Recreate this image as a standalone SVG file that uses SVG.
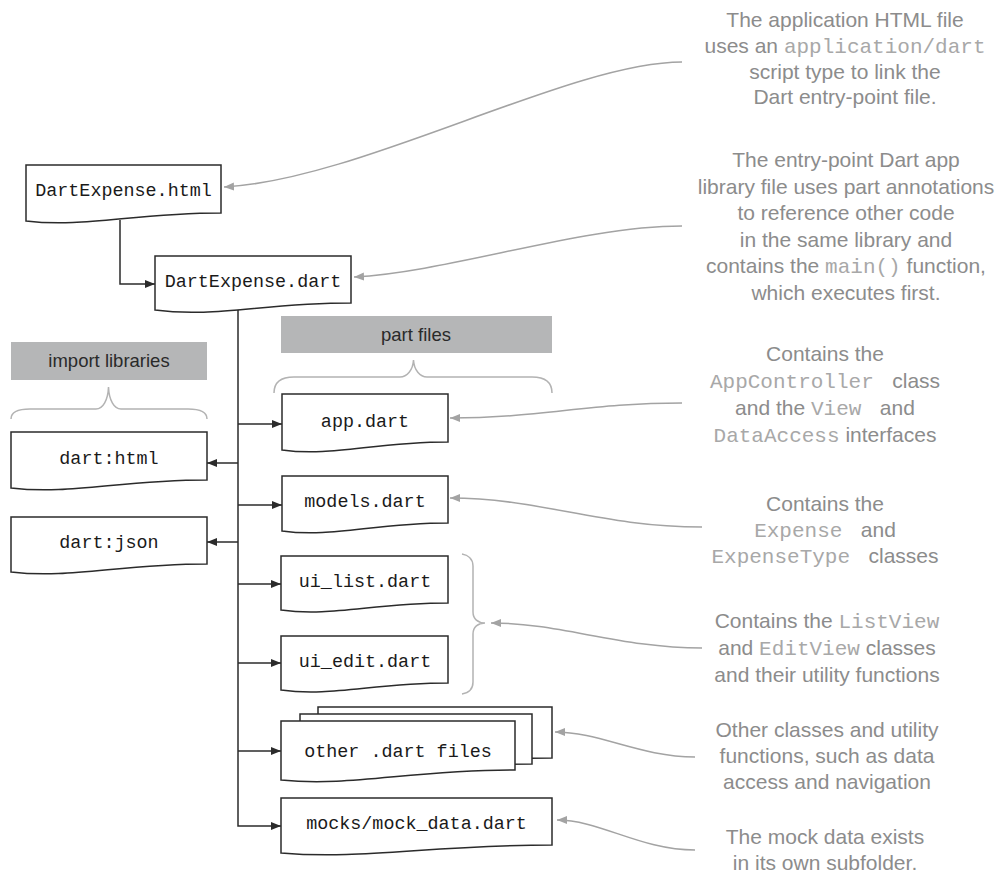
<svg xmlns="http://www.w3.org/2000/svg" width="1007" height="873" viewBox="0 0 1007 873">
<style>
.box{fill:#fff;stroke:#2b2b2b;stroke-width:1.5}
.nt{font-family:"Liberation Mono","Courier New",monospace;font-size:18.4px;fill:#1a1a1a;text-anchor:middle}
.hdr{fill:#b5b6b7}
.ht{font-family:"Liberation Sans",Arial,sans-serif;font-size:18.5px;fill:#2a2a2a;text-anchor:middle}
.br{fill:none;stroke:#b3b3b3;stroke-width:1.5}
.con{fill:none;stroke:#2b2b2b;stroke-width:1.5}
.cal{fill:none;stroke:#a3a3a3;stroke-width:1.5}
.ct{font-family:"Liberation Sans",Arial,sans-serif;font-size:21px;fill:#8c8c8c;text-anchor:middle}
.cm{font-family:"Liberation Mono","Courier New",monospace;fill:#a8a8a8}
</style>
<defs>
<marker id="ad" markerUnits="userSpaceOnUse" markerWidth="11" markerHeight="8" refX="10" refY="4" orient="auto"><path d="M0,0 L10,4 L0,8 z" fill="#2b2b2b"/></marker>
<marker id="ag" markerUnits="userSpaceOnUse" markerWidth="11" markerHeight="8" refX="10" refY="4" orient="auto"><path d="M0,0 L10,4 L0,8 z" fill="#a3a3a3"/></marker>
</defs>

<g id="header-import">
<rect class="hdr" x="11" y="342" width="196" height="38"/>
<text class="ht" x="109" y="367">import libraries</text>
<path class="br" d="M11,419 C11,412 17,409 30,409 L96,409 C103,409 108,400 108.5,387 C109,400 114,409 121,409 L188,409 C201,409 207,412 207,419"/>
</g>
<g id="header-part">
<rect class="hdr" x="281" y="316" width="271" height="37"/>
<text class="ht" x="416" y="341">part files</text>
<path class="br" d="M274,393 C274,383 280,377 294,377 L400,377 C407,377 413,370 413.5,360 C414,370 420,377 427,377 L532,377 C546,377 552,383 552,393"/>
</g>

<g id="connectors">
<path class="con" d="M120,220 V284 H155" marker-end="url(#ad)"/>
<path class="con" d="M238,308 V826 H281" marker-end="url(#ad)"/>
<path class="con" d="M238,424 H282" marker-end="url(#ad)"/>
<path class="con" d="M238,463 H207" marker-end="url(#ad)"/>
<path class="con" d="M238,505 H282" marker-end="url(#ad)"/>
<path class="con" d="M238,542 H207" marker-end="url(#ad)"/>
<path class="con" d="M238,584 H281" marker-end="url(#ad)"/>
<path class="con" d="M238,663 H281" marker-end="url(#ad)"/>
<path class="con" d="M238,751 H281" marker-end="url(#ad)"/>
<path class="br" d="M462,554 C468,555 473,559 473,566 L473,612 C473,619 478,623 485,623 C478,623 473,627 473,634 L473,682 C473,690 468,693 462,694"/>
<path class="cal" d="M682,62 C570,62 360,180 224,187" marker-end="url(#ag)"/>
<path class="cal" d="M682,226 C580,226 450,272 354,277" marker-end="url(#ag)"/>
<path class="cal" d="M682,403 C590,403 540,418 450,418" marker-end="url(#ag)"/>
<path class="cal" d="M702,527 C600,527 540,498 450,498" marker-end="url(#ag)"/>
<path class="cal" d="M702,648 C620,648 560,623 491,623" marker-end="url(#ag)"/>
<path class="cal" d="M695,757 C640,757 600,732 555,732" marker-end="url(#ag)"/>
<path class="cal" d="M695,850 C640,850 600,820 557,820" marker-end="url(#ag)"/>
</g>

<g id="node-html">
<path class="box" d="M26,165 H221 V213 C133,213 84,228 26,221 Z"/>
<text class="nt" x="123.5" y="196">DartExpense.html</text>
</g>
<g id="node-dart">
<path class="box" d="M155,256 H351 V303 C263,303 214,318 155,310 Z"/>
<text class="nt" x="253" y="287">DartExpense.dart</text>
</g>
<g id="node-app">
<path class="box" d="M282,394 H448 V442 C373,442 332,457 282,450 Z"/>
<text class="nt" x="365" y="427">app.dart</text>
</g>
<g id="node-darthtml">
<path class="box" d="M11,432 H207 V480 C119,480 70,495 11,488 Z"/>
<text class="nt" x="109" y="464">dart:html</text>
</g>
<g id="node-models">
<path class="box" d="M282,476 H448 V523 C373,523 332,538 282,531 Z"/>
<text class="nt" x="365" y="507">models.dart</text>
</g>
<g id="node-dartjson">
<path class="box" d="M11,517 H207 V564 C119,564 70,579 11,572 Z"/>
<text class="nt" x="109" y="548">dart:json</text>
</g>
<g id="node-uilist">
<path class="box" d="M281,556 H448 V603 C373,603 331,617 281,610 Z"/>
<text class="nt" x="365" y="587">ui_list.dart</text>
</g>
<g id="node-uiedit">
<path class="box" d="M281,636 H448 V683 C373,683 331,697 281,690 Z"/>
<text class="nt" x="365" y="667">ui_edit.dart</text>
</g>
<g id="node-other">
<path class="box" d="M318,707 H552 V758 C447,758 388,773 318,766 Z"/>
<path class="box" d="M300,714 H532 V764 C428,764 370,779 300,772 Z"/>
<path class="box" d="M281,721 H515 V770 C410,770 351,787 281,780 Z"/>
<text class="nt" x="398" y="757">other .dart files</text>
</g>
<g id="node-mocks">
<path class="box" d="M281,798 H552 V845 C430,845 362,860 281,853 Z"/>
<text class="nt" x="416.5" y="829">mocks/mock_data.dart</text>
</g>

<g id="note-html">
<text class="ct" x="845" y="27">The application HTML file</text>
<text class="ct" x="845" y="53">uses an <tspan class="cm">application/dart</tspan></text>
<text class="ct" x="845" y="79">script type to link the</text>
<text class="ct" x="845" y="104">Dart entry-point file.</text>
</g>
<g id="note-dart">
<text class="ct" x="846" y="167">The entry-point Dart app</text>
<text class="ct" x="846" y="193.5">library file uses part annotations</text>
<text class="ct" x="846" y="220">to reference other code</text>
<text class="ct" x="846" y="246.5">in the same library and</text>
<text class="ct" x="846" y="273">contains the <tspan class="cm">main()</tspan> function,</text>
<text class="ct" x="846" y="299.5">which executes first.</text>
</g>
<g id="note-app">
<text class="ct" x="825" y="361">Contains the</text>
<text class="ct" x="825" y="388"><tspan class="cm">AppController&#160;</tspan> class</text>
<text class="ct" x="825" y="415">and the <tspan class="cm">View&#160;</tspan> and</text>
<text class="ct" x="825" y="442"><tspan class="cm">DataAccess</tspan> interfaces</text>
</g>
<g id="note-models">
<text class="ct" x="825" y="511">Contains the</text>
<text class="ct" x="825" y="537"><tspan class="cm">Expense&#160;</tspan> and</text>
<text class="ct" x="825" y="563"><tspan class="cm">ExpenseType&#160;</tspan> classes</text>
</g>
<g id="note-ui">
<text class="ct" x="827" y="628">Contains the <tspan class="cm">ListView</tspan></text>
<text class="ct" x="827" y="655">and <tspan class="cm">EditView</tspan> classes</text>
<text class="ct" x="827" y="682">and their utility functions</text>
</g>
<g id="note-other">
<text class="ct" x="827" y="737">Other classes and utility</text>
<text class="ct" x="827" y="763">functions, such as data</text>
<text class="ct" x="827" y="789">access and navigation</text>
</g>
<g id="note-mocks">
<text class="ct" x="825" y="844">The mock data exists</text>
<text class="ct" x="825" y="870">in its own subfolder.</text>
</g>
</svg>
